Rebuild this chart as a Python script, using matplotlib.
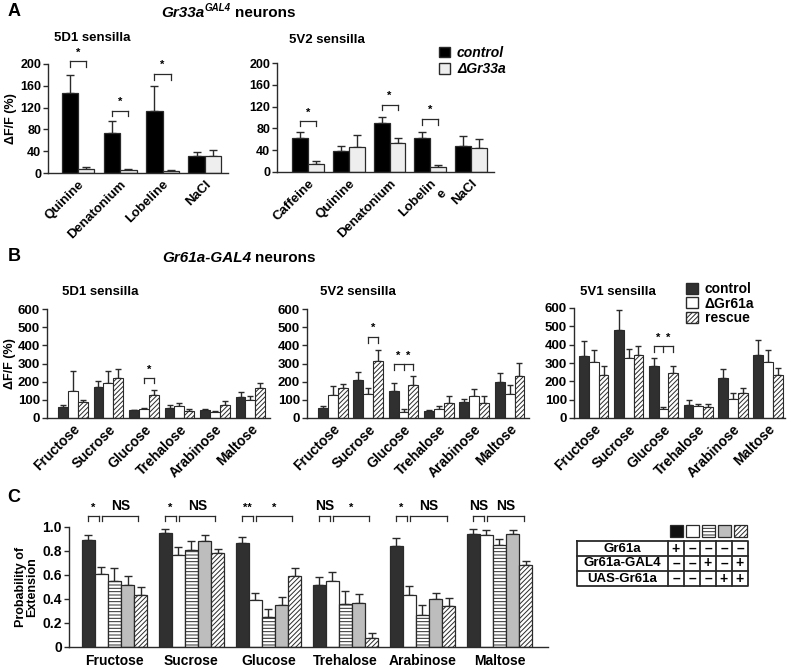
import matplotlib
matplotlib.use('Agg')
import matplotlib.pyplot as plt
from matplotlib.patches import Patch, Rectangle
import numpy as np

plt.rcParams['font.family'] = ['Liberation Sans', 'DejaVu Sans']
plt.rcParams['font.weight'] = 'bold'
plt.rcParams['hatch.linewidth'] = 0.7
plt.rcParams['axes.linewidth'] = 1.0

# ---------------- data ----------------
A_left_cats = ['Quinine', 'Denatonium', 'Lobeline', 'NaCl']
A_left_ctrl = [146, 73, 113, 31]
A_left_ctrl_err = [34, 22, 47, 7]
A_left_mut = [7, 5, 3, 31]
A_left_mut_err = [4, 2, 2, 12]

A_right_cats = ['Caffeine', 'Quinine', 'Denatonium', 'Lobelin\ne', 'NaCl']
A_right_ctrl = [62, 38, 89, 62, 48]
A_right_ctrl_err = [11, 10, 11, 11, 18]
A_right_mut = [15, 46, 53, 10, 44]
A_right_mut_err = [5, 22, 9, 3, 16]

sugars = ['Fructose', 'Sucrose', 'Glucose', 'Trehalose', 'Arabinose', 'Maltose']

B1_ctrl = [61, 171, 42, 55, 42, 116]
B1_ctrl_err = [12, 31, 4, 18, 6, 27]
B1_del = [149, 195, 51, 64, 31, 97]
B1_del_err = [107, 62, 4, 20, 9, 24]
B1_res = [88, 220, 125, 37, 72, 165]
B1_res_err = [13, 48, 27, 14, 20, 28]

B2_ctrl = [57, 207, 149, 37, 86, 198]
B2_ctrl_err = [9, 46, 44, 9, 20, 50]
B2_del = [125, 134, 33, 48, 121, 134]
B2_del_err = [49, 31, 15, 16, 40, 46]
B2_res = [165, 314, 180, 84, 84, 231]
B2_res_err = [24, 58, 49, 37, 35, 74]

B3_ctrl = [339, 482, 281, 73, 220, 345]
B3_ctrl_err = [79, 107, 46, 24, 46, 83]
B3_del = [308, 326, 51, 66, 106, 308]
B3_del_err = [61, 50, 10, 13, 33, 61]
B3_res = [235, 343, 244, 61, 139, 235]
B3_res_err = [51, 48, 37, 14, 22, 37]

C_g1 = [0.89, 0.95, 0.87, 0.52, 0.84, 0.94]
C_g1_err = [0.04, 0.036, 0.05, 0.065, 0.07, 0.046]
C_g2 = [0.61, 0.77, 0.39, 0.55, 0.43, 0.93]
C_g2_err = [0.056, 0.064, 0.06, 0.075, 0.076, 0.045]
C_g3 = [0.55, 0.81, 0.25, 0.355, 0.27, 0.85]
C_g3_err = [0.11, 0.07, 0.065, 0.11, 0.076, 0.054]
C_g4 = [0.52, 0.885, 0.35, 0.37, 0.40, 0.94]
C_g4_err = [0.073, 0.05, 0.067, 0.075, 0.053, 0.039]
C_g5 = [0.43, 0.78, 0.59, 0.075, 0.34, 0.68]
C_g5_err = [0.07, 0.033, 0.069, 0.045, 0.07, 0.039]
C_sig_small = ['*', '*', '**', 'NS', '*', 'NS']
C_sig_large = ['NS', 'NS', '*', '*', 'NS', 'NS']

tab_rows = ['Gr61a', 'Gr61a-GAL4', 'UAS-Gr61a']
tab_entries = [['+', '\u2013', '\u2013', '\u2013', '\u2013'],
               ['\u2013', '\u2013', '+', '\u2013', '+'],
               ['\u2013', '\u2013', '\u2013', '+', '+']]

# ---------------- helpers ----------------
W, H = 793, 669
fig = plt.figure(figsize=(W / 100, H / 100), dpi=100)
EDGE = '#2a2a2a'
renderer = fig.canvas.get_renderer()


def pax(x0, y0, x1, y1):
    return fig.add_axes([x0 / W, 1 - y1 / H, (x1 - x0) / W, (y1 - y0) / H])


def ftext(x, y, s, **kw):
    return fig.text(x / W, 1 - y / H, s, **kw)


def chain(x, y, parts):
    """place text pieces one after another starting at pixel x"""
    for s, dy, gap, kw in parts:
        t = ftext(x, y + dy, s, va='center', ha='left', **kw)
        x = t.get_window_extent(renderer).x1 + gap


def style_ax(ax, ylim, yticks, ysize, yticklabels=None):
    ax.set_ylim(*ylim)
    ax.set_yticks(yticks)
    if yticklabels is not None:
        ax.set_yticklabels(yticklabels)
    for s in ['top', 'right']:
        ax.spines[s].set_visible(False)
    for s in ['left', 'bottom']:
        ax.spines[s].set_color(EDGE)
    ax.tick_params(axis='y', length=3.5, width=1, color=EDGE, labelsize=ysize, pad=1.5)
    ax.tick_params(axis='x', length=0)
    ax.patch.set_alpha(0)


def bars(ax, x, vals, errs, width, fc, hatch=None, lw=0.9, capsize=2.5):
    ax.bar(x, vals, width=width, color=fc, edgecolor=EDGE, linewidth=lw,
           hatch=hatch, zorder=2)
    ax.errorbar(x, vals, yerr=[np.zeros(len(vals)), errs], fmt='none',
                ecolor=EDGE, elinewidth=1.0, capsize=capsize, capthick=1.0, zorder=1)


def bracket(ax, xs, ytop, ybot, lw=0.9):
    ax.plot([xs[0], xs[-1]], [ytop, ytop], color=EDGE, lw=lw, clip_on=False)
    for xx in xs:
        ax.plot([xx, xx], [ybot, ytop], color=EDGE, lw=lw, clip_on=False)


# ---------------- Panel A ----------------
ftext(8, 12, 'A', fontsize=13, fontweight='bold', va='center')
chain(161, 13, [('Gr33a', 0, 0.5, dict(fontsize=11, fontweight='bold', style='italic')),
                ('GAL4', -5, 4, dict(fontsize=7, fontweight='bold', style='italic')),
                ('neurons', 0, 0, dict(fontsize=11, fontweight='bold'))])
ftext(92, 38, '5D1 sensilla', fontsize=9.5, fontweight='bold', ha='center', va='center')
ftext(327, 40, '5V2 sensilla', fontsize=9.5, fontweight='bold', ha='center', va='center')

axA1 = pax(48, 64, 228, 173)
xA1 = np.arange(len(A_left_cats))
bars(axA1, xA1 - 0.195, A_left_ctrl, A_left_ctrl_err, 0.39, '#000000', capsize=3)
bars(axA1, xA1 + 0.195, A_left_mut, A_left_mut_err, 0.39, '#eeeeee', capsize=3)
axA1.set_xlim(-0.71, 3.55)
style_ax(axA1, (0, 200), [0, 40, 80, 120, 160, 200], 9)
axA1.set_xticks(xA1)
axA1.set_xticklabels(A_left_cats, rotation=45, ha='right', rotation_mode='anchor',
                     fontsize=9.5, fontweight='bold', va='top')
axA1.tick_params(axis='x', pad=4)
axA1.set_ylabel('\u0394F/F (%)', fontsize=9, fontweight='bold', labelpad=2)
for i, (yt, yb, ys) in zip([0, 1, 2], [(205, 194, 212), (114, 105, 121), (182, 171, 189)]):
    bracket(axA1, [i - 0.195, i + 0.195], yt, yb)
    axA1.text(i, ys, '*', ha='center', va='bottom', fontsize=8, fontweight='bold')

axA2 = pax(277, 63, 494, 172)
xA2 = np.arange(len(A_right_cats))
bars(axA2, xA2 - 0.195, A_right_ctrl, A_right_ctrl_err, 0.39, '#000000', capsize=3)
bars(axA2, xA2 + 0.195, A_right_mut, A_right_mut_err, 0.39, '#eeeeee', capsize=3)
axA2.set_xlim(-0.76, 4.56)
style_ax(axA2, (0, 200), [0, 40, 80, 120, 160, 200], 9)
axA2.set_xticks(xA2)
axA2.set_xticklabels(A_right_cats, rotation=45, ha='right', rotation_mode='anchor',
                     fontsize=9.5, fontweight='bold', va='top', multialignment='right')
axA2.tick_params(axis='x', pad=4)
for i, (yt, yb, ys) in zip([0, 2, 3], [(93, 84, 100), (123, 114, 130), (97, 86, 104)]):
    bracket(axA2, [i - 0.195, i + 0.195], yt, yb)
    axA2.text(i, ys, '*', ha='center', va='bottom', fontsize=8, fontweight='bold')

legA = fig.legend(handles=[Patch(facecolor='#000000', edgecolor=EDGE),
                           Patch(facecolor='#eeeeee', edgecolor=EDGE)],
                  labels=['control', '\u0394Gr33a'], loc='upper left',
                  bbox_to_anchor=(439 / W, 1 - 46 / H), frameon=False,
                  handlelength=0.8, handleheight=0.8, handletextpad=0.5,
                  labelspacing=0.15, borderpad=0, borderaxespad=0,
                  prop={'size': 10, 'weight': 'bold', 'style': 'italic'})

# ---------------- Panel B ----------------
ftext(8, 257, 'B', fontsize=13, fontweight='bold', va='center')
chain(162, 258, [('Gr61a-GAL4', 0, 4, dict(fontsize=11, fontweight='bold', style='italic')),
                 ('neurons', 0, 0, dict(fontsize=11, fontweight='bold'))])

B_sets = [
    ((47, 309, 270, 418), (-0.73, 5.55), B1_ctrl, B1_ctrl_err, B1_del, B1_del_err, B1_res, B1_res_err,
     '5D1 sensilla', 100),
    ((307, 309, 529, 418), (-0.73, 5.55), B2_ctrl, B2_ctrl_err, B2_del, B2_del_err, B2_res, B2_res_err,
     '5V2 sensilla', 358),
    ((574, 308, 785, 418), (-0.57, 5.49), B3_ctrl, B3_ctrl_err, B3_del, B3_del_err, B3_res, B3_res_err,
     '5V1 sensilla', 618),
]
B_axes = []
xB = np.arange(len(sugars))
bw = 0.28
for box, xl, c, ce, d, de, r, re_, title, tx in B_sets:
    ax = pax(*box)
    bars(ax, xB - bw, c, ce, bw, '#303030', lw=0.8, capsize=2.2)
    bars(ax, xB, d, de, bw, '#ffffff', lw=0.8, capsize=2.2)
    bars(ax, xB + bw, r, re_, bw, '#ffffff', hatch='///////', lw=0.8, capsize=2.2)
    ax.set_xlim(*xl)
    style_ax(ax, (0, 600), [0, 100, 200, 300, 400, 500, 600], 9.5)
    ax.set_xticks(xB)
    ax.set_xticklabels(sugars, rotation=45, ha='right', rotation_mode='anchor',
                       fontsize=10, fontweight='bold', va='top')
    ax.tick_params(axis='x', pad=3)
    ftext(tx, 292, title, fontsize=9.5, fontweight='bold', ha='center', va='center')
    B_axes.append(ax)

B_axes[0].set_ylabel('\u0394F/F (%)', fontsize=9, fontweight='bold', labelpad=1)
# significance
bracket(B_axes[0], [2, 2 + bw], 220, 192)
B_axes[0].text(2 + bw / 2, 240, '*', ha='center', va='bottom', fontsize=8, fontweight='bold')
bracket(B_axes[1], [1, 1 + bw], 445, 412)
B_axes[1].text(1 + bw / 2, 468, '*', ha='center', va='bottom', fontsize=8, fontweight='bold')
bracket(B_axes[1], [2 - bw, 2, 2 + bw], 297, 264)
B_axes[1].text(2 - bw / 2, 315, '*', ha='center', va='bottom', fontsize=8, fontweight='bold')
B_axes[1].text(2 + bw / 2, 315, '*', ha='center', va='bottom', fontsize=8, fontweight='bold')
bracket(B_axes[2], [2 - bw, 2, 2 + bw], 393, 360)
B_axes[2].text(2 - bw / 2, 412, '*', ha='center', va='bottom', fontsize=8, fontweight='bold')
B_axes[2].text(2 + bw / 2, 412, '*', ha='center', va='bottom', fontsize=8, fontweight='bold')

legB = fig.legend(handles=[Patch(facecolor='#303030', edgecolor=EDGE),
                           Patch(facecolor='#ffffff', edgecolor=EDGE),
                           Patch(facecolor='#ffffff', edgecolor=EDGE, hatch='///////')],
                  labels=['control', '\u0394Gr61a', 'rescue'], loc='upper left',
                  bbox_to_anchor=(686 / W, 1 - 282 / H), frameon=False,
                  handlelength=0.85, handleheight=0.85, handletextpad=0.5,
                  labelspacing=0.05, borderpad=0, borderaxespad=0,
                  prop={'size': 10, 'weight': 'bold'})

# ---------------- Panel C ----------------
ftext(7, 497, 'C', fontsize=13, fontweight='bold', va='center')
axC = pax(69, 527, 548, 647)
xC = np.arange(len(sugars))
cw = 0.171
C_styles = [('#303030', None), ('#ffffff', None), ('#ffffff', '-----'),
            ('#bdbdbd', None), ('#ffffff', '///////')]
C_vals = [(C_g1, C_g1_err), (C_g2, C_g2_err), (C_g3, C_g3_err), (C_g4, C_g4_err), (C_g5, C_g5_err)]
for k, ((v, e), (fc, h)) in enumerate(zip(C_vals, C_styles)):
    bars(axC, xC + (k - 2) * cw, v, e, cw, fc, hatch=h, lw=0.9, capsize=3.2)
axC.set_xlim(-0.59, 5.63)
style_ax(axC, (0, 1.0), [0, 0.2, 0.4, 0.6, 0.8, 1.0], 10,
         ['0', '0.2', '0.4', '0.6', '0.8', '1.0'])
axC.set_xticks(xC)
axC.set_xticklabels(sugars, fontsize=10, fontweight='bold')
axC.tick_params(axis='x', pad=5)
axC.set_ylabel('Probability of\nExtension', fontsize=9, fontweight='bold', labelpad=3,
               linespacing=0.95)
for i in range(len(sugars)):
    c1, c2, c5 = i - 2 * cw, i - cw, i + 2 * cw
    bracket(axC, [c1, c2 - 0.035], 1.09, 1.05)
    bracket(axC, [c2 + 0.01, c5 - 0.03], 1.09, 1.05)
    s1, s2 = C_sig_small[i], C_sig_large[i]
    axC.text((c1 + c2 - 0.035) / 2, 1.115, s1, ha='center', va='bottom',
             fontsize=8 if '*' in s1 else 10, fontweight='bold', clip_on=False)
    axC.text((c2 + 0.01 + c5 - 0.03) / 2, 1.115, s2, ha='center', va='bottom',
             fontsize=8 if '*' in s2 else 10, fontweight='bold', clip_on=False)

# legend table for C (pixel coordinates)
axT = pax(570, 518, 760, 592)
axT.set_xlim(570, 760)
axT.set_ylim(592, 518)
axT.axis('off')
col_edges = [668, 684, 700, 716, 732, 748]
row_edges = [541, 556, 571, 586]
for j, (fc, h) in enumerate(C_styles):
    cx = (col_edges[j] + col_edges[j + 1]) / 2
    fcol = '#111111' if j == 0 else fc
    axT.add_patch(Rectangle((cx - 6.5, 525), 13, 12, facecolor=fcol, edgecolor=EDGE,
                            hatch=h, lw=0.9))
tl = 1.3
axT.plot([577, 748, 748, 577, 577], [541, 541, 586, 586, 541], color=EDGE, lw=tl)
for yy in row_edges[1:-1]:
    axT.plot([577, 748], [yy, yy], color=EDGE, lw=tl)
for xx in col_edges[:-1]:
    axT.plot([xx, xx], [541, 586], color=EDGE, lw=tl)
for r, lab in enumerate(tab_rows):
    cy = (row_edges[r] + row_edges[r + 1]) / 2
    axT.text(622, cy, lab, ha='center', va='center', fontsize=9.5, fontweight='bold')
    for j, ent in enumerate(tab_entries[r]):
        cx = (col_edges[j] + col_edges[j + 1]) / 2
        axT.text(cx, cy, ent, ha='center', va='center', fontsize=10, fontweight='bold')

fig.savefig('out.png', dpi=100)
